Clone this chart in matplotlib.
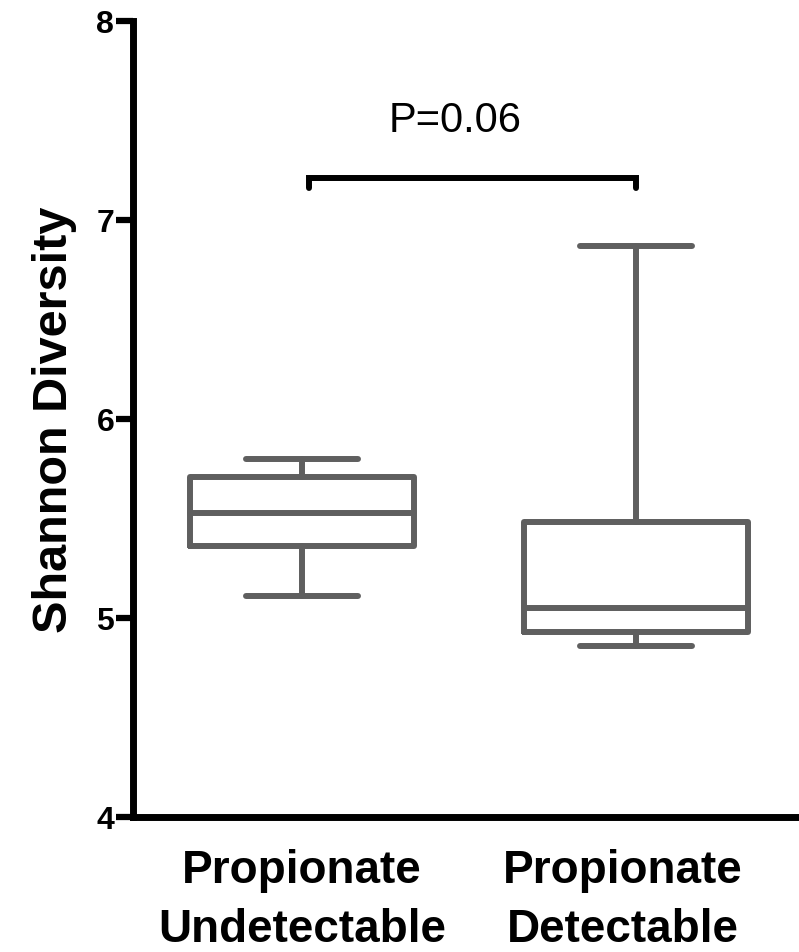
import matplotlib
matplotlib.use("Agg")
import matplotlib.pyplot as plt

plt.rcParams['font.family'] = ['Liberation Sans', 'DejaVu Sans']

# Data
groups = ["Propionate\nUndetectable", "Propionate\nDetectable"]
medians = [5.53, 5.05]
q1 = [5.36, 4.93]
q3 = [5.71, 5.48]
whislo = [5.11, 4.86]
whishi = [5.80, 6.87]
yticks = [4, 5, 6, 7, 8]
p_text = "P=0.06"

gray = "#5f5f5f"

fig = plt.figure(figsize=(7.99, 9.53), dpi=100)
ax = fig.add_axes([133/799, 1-818/953, 1-133/799, (818-22)/953])

stats = []
for i, g in enumerate(groups):
    stats.append(dict(label=g, med=medians[i], q1=q1[i], q3=q3[i],
                      whislo=whislo[i], whishi=whishi[i], fliers=[]))

lp = dict(color=gray, linewidth=4.3, solid_joinstyle='round', solid_capstyle='round')
positions = [1, 2]
ax.bxp(stats, positions=positions, widths=0.668, showfliers=False,
       boxprops=lp, whiskerprops=lp, capprops=lp, medianprops=lp)

# significance bracket
ax.plot([1.02, 1.02, 2.0, 2.0], [7.16, 7.21, 7.21, 7.16], color='black',
        linewidth=4.3, solid_capstyle='round', solid_joinstyle='miter')
ax.text(1.458, 7.50, p_text, ha='center', va='center', fontsize=30)

ax.set_xlim(0.494, 2.488)
ax.set_ylim(4, 8)
ax.set_yticks(yticks)
ax.set_yticklabels([str(t) for t in yticks], fontsize=23, fontweight='bold')
ax.set_xticks([1, 1.96])
ax.set_xticklabels(groups, fontsize=33, fontweight='bold', linespacing=1.45)
ax.tick_params(axis='x', length=0, pad=22)
ax.tick_params(axis='y', length=12, width=4.5, pad=1.5)

for s in ['top', 'right']:
    ax.spines[s].set_visible(False)
for s in ['left', 'bottom']:
    ax.spines[s].set_linewidth(5)
    ax.spines[s].set_capstyle('projecting')

ax.set_ylabel("Shannon Diversity", fontsize=35, fontweight='bold', labelpad=14)

fig.savefig("out.png", dpi=100)
